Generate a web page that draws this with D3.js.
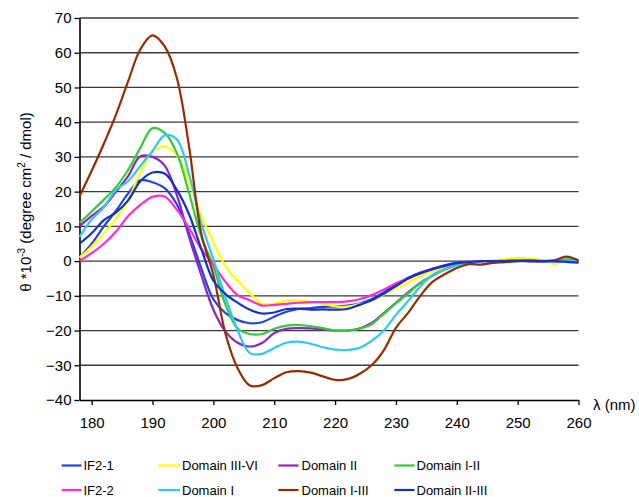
<!DOCTYPE html>
<html><head><meta charset="utf-8">
<script src="https://cdn.jsdelivr.net/npm/d3@7"></script>
<style>
html,body{margin:0;padding:0;background:#fff;}
text{font-family:"Liberation Sans",Arial,sans-serif;fill:#000;}
</style></head><body>
<svg id="chart" width="639" height="497"></svg>
<script>
// wavelengths (nm)
const wavelengths = [178,180,182,184,186,188,190,192,194,196,198,200,202,204,206,208,210,212,214,216,218,220,222,224,226,228,230,232,234,236,238,240,242,244,246,248,250,252,254,256,258,260];
const if2_1      = [1,5,10,14.5,19.5,23.3,22.7,21,16.3,8,-2,-11,-15,-17,-17.9,-17.6,-16,-14.6,-13.8,-13.5,-13.2,-13.1,-12.8,-12.2,-11,-9,-6.8,-4.8,-3.3,-2.2,-1.2,-0.5,-0.2,0,0,0.1,0,0,-0.1,0,-0.2,-0.4];
const domIIIVI   = [1,4.2,8,12.2,17.7,25.5,31.5,33,30.5,23,13,5.5,-1.5,-5.7,-9.3,-12.2,-12.2,-11.4,-11.3,-11.8,-12.3,-13,-13.1,-12.4,-11.5,-9.6,-7.9,-6.2,-4.4,-3,-1.8,-0.8,-0.3,0,0.2,0.6,0.9,0.7,0.2,-0.8,0,0.1];
const domII      = [10,13,15.7,20,24.5,30.2,30,27.5,19,7,-4,-14,-20.3,-23.5,-24.6,-23.6,-20.7,-19.5,-19.3,-19.4,-19.7,-20,-20,-19.4,-17.8,-15,-12,-9,-6.3,-4.2,-2.4,-1.2,-0.5,0,0,0,0.1,0,0,0,0,0];
const domIII     = [11,14.3,17.7,21.3,26.3,32.6,38.3,36.9,31.1,19.6,7.1,-1.5,-12.6,-19.4,-21,-21,-19.5,-18.6,-18.4,-18.8,-19.3,-20,-20,-19.5,-18.2,-15.2,-12.2,-9.3,-6.3,-4.2,-2.4,-1.2,-0.5,0,0,0.1,0.2,0,0,0.1,0.5,0.3];
const if2_2      = [0,2.3,5,8.5,13,16.2,18.5,18.6,14.8,9.5,3.5,-1,-6,-9.8,-11.3,-12.8,-12.6,-12.3,-12,-11.8,-11.8,-11.8,-11.6,-11,-9.8,-8.2,-6.4,-5,-3.6,-2.3,-1.5,-0.8,-0.3,0,0,0,0.1,0,0,0,0,0];
const domI       = [7,12,15.5,20.5,23,27.4,31.7,36.2,35,25,11,0.5,-10.5,-20,-26.5,-26.7,-25,-23.5,-23.2,-23.8,-24.8,-25.5,-25.6,-25,-23,-20,-15.5,-11.5,-7.3,-4,-2.4,-1.1,-0.4,0,0,0.1,0.2,0.1,0,0,0,0];
const domIIII    = [18.6,26,33.8,42.2,51.8,61,65,61.8,52.7,33,8,-4,-21,-30.9,-35.8,-35.7,-33.7,-32,-31.7,-32.1,-33.2,-34.2,-34,-32.5,-30,-25.7,-19.2,-14.9,-10,-6,-3.8,-2,-0.9,-1,-0.5,-0.3,0,0.2,0.1,0.2,1.3,0.2];
const domIIIII   = [5,8,11.8,14,17.5,23,25.5,25.2,20.5,13.5,3.6,-5.6,-9.5,-12,-14,-15.1,-14.8,-13.8,-13.7,-14,-13.9,-14,-13.8,-12.6,-11.3,-9.4,-7.2,-5,-3.5,-2.3,-1.3,-0.6,-0.3,0,0,0,0.1,0,-0.1,0,-0.2,-0.4];

const seriesNames  = ["IF2-1","Domain III-VI","Domain II","Domain I-II","IF2-2","Domain I","Domain I-III","Domain II-III"];
const seriesValues = [if2_1, domIIIVI, domII, domIII, if2_2, domI, domIIII, domIIIII];
const seriesColors = ["#2040f0","#ffff00","#8e24c8","#33cc33","#ff2ad4","#2ec8f5","#9a2a00","#1030d0"];

const xTicks = [180,190,200,210,220,230,240,250,260];
const yTicks = [-40,-30,-20,-10,0,10,20,30,40,50,60,70];

const svg = d3.select("#chart");
const x = d3.scaleLinear().domain([178,260]).range([79.5,578.5]);
const y = d3.scaleLinear().domain([-40,70]).range([400,18]);

// gridlines
svg.append("g").selectAll("line").data(yTicks.filter(d=>d>-40)).join("line")
  .attr("x1",x(178)).attr("x2",x(260))
  .attr("y1",d=>y(d)).attr("y2",d=>y(d))
  .attr("stroke","#3a3a3a").attr("stroke-width",1.3);

// axes
const xAxis = svg.append("g").attr("transform",`translate(0,${y(-40)})`)
  .call(d3.axisBottom(x).tickValues(xTicks).tickSizeInner(5).tickSizeOuter(0).tickPadding(12).tickFormat(d3.format("d")));
const yAxis = svg.append("g").attr("transform",`translate(${x(178)},0)`)
  .call(d3.axisLeft(y).tickValues(yTicks).tickSizeInner(5).tickSizeOuter(0).tickPadding(3).tickFormat(d3.format("d")));
[xAxis,yAxis].forEach(a=>{
  a.select(".domain").attr("stroke","#000").attr("stroke-width",1.6);
  a.selectAll(".tick line").attr("stroke","#000").attr("stroke-width",1.3);
  a.selectAll(".tick text").attr("font-size",15).attr("font-family","'Liberation Sans',Arial,sans-serif").attr("fill","#000");
});

// series lines
const line = d3.line().curve(d3.curveCatmullRom.alpha(0.5))
  .x((d,i)=>x(wavelengths[i])).y(d=>y(d));
svg.append("g").selectAll("path").data(seriesValues).join("path")
  .attr("d",d=>line(d)).attr("fill","none")
  .attr("stroke",(d,i)=>seriesColors[i]).attr("stroke-width",2.2)
  .attr("stroke-linejoin","round");

// axis titles
svg.append("text").attr("x",593).attr("y",410).attr("font-size",15).text("λ (nm)");
const yt = svg.append("text").attr("transform","translate(31,202) rotate(-90)")
  .attr("text-anchor","middle").attr("font-size",15);
yt.append("tspan").text("θ *10");
yt.append("tspan").attr("font-size",10).attr("dy",-6).text("-3");
yt.append("tspan").attr("dy",6).text(" (degree cm");
yt.append("tspan").attr("font-size",10).attr("dy",-6).text("2");
yt.append("tspan").attr("dy",6).text(" / dmol)");

// legend
const legX = [[61.7,81.5,83.5],[158.3,180,182],[278.3,298.5,301.5],[394.3,414.5,416.5]];
const legY = [465.5,490];
seriesNames.forEach((name,i)=>{
  const c = legX[i%4], ry = legY[Math.floor(i/4)];
  svg.append("line").attr("x1",c[0]).attr("x2",c[1]).attr("y1",ry).attr("y2",ry)
    .attr("stroke",seriesColors[i]).attr("stroke-width",2.2);
  svg.append("text").attr("x",c[2]).attr("y",ry).attr("dy","0.36em")
    .attr("font-size",13).text(name);
});
</script>
</body></html>
